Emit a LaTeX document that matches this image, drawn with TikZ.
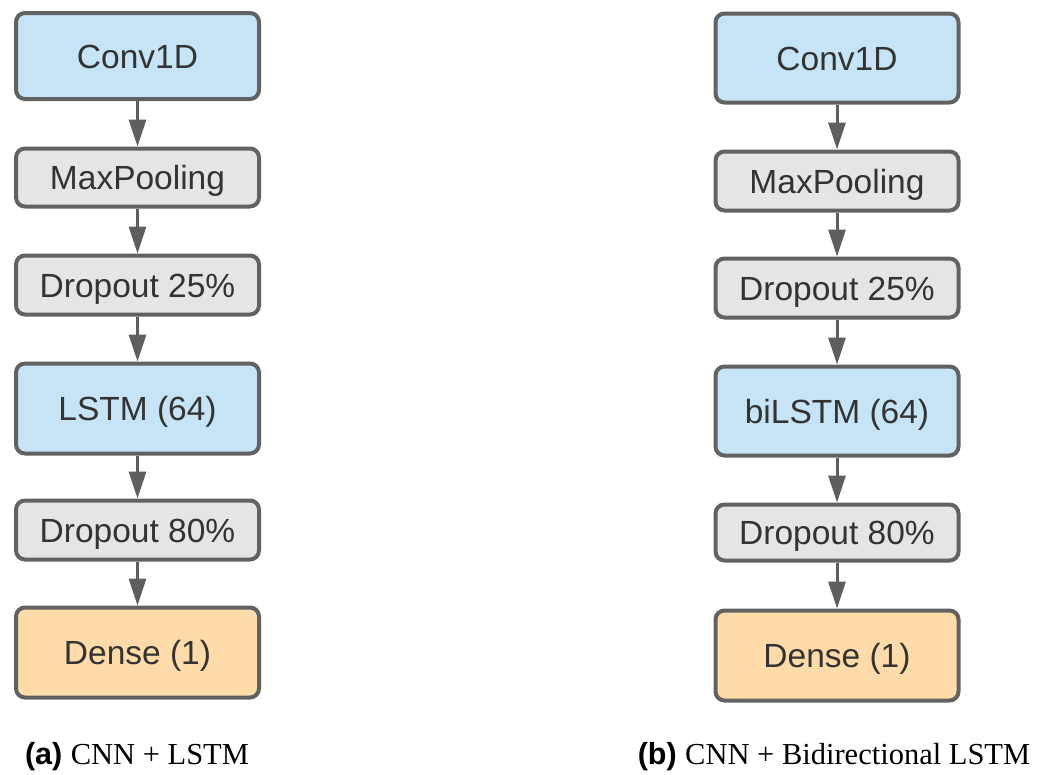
\documentclass[tikz,border=0pt]{standalone}
\usepackage{fontspec}
\setmainfont{Liberation Sans}
\newfontfamily\capserif{Liberation Serif}
\usetikzlibrary{arrows.meta}
\definecolor{bordergray}{HTML}{626262}
\definecolor{textgray}{HTML}{333333}
\definecolor{bluefill}{HTML}{C6E4F6}
\definecolor{grayfill}{HTML}{E5E5E5}
\definecolor{orangefill}{HTML}{FFDBA9}
\definecolor{arrowgray}{HTML}{5E5E5E}
\tikzset{
  layer/.style={draw=bordergray, line width=4pt, rounded corners=9pt,
    minimum width=243pt, text=textgray, font=\fontsize{33.5}{38}\selectfont,
    text height=24pt, text depth=0pt, inner sep=0pt},
  bluebox/.style={layer, fill=bluefill},
  graybox/.style={layer, fill=grayfill},
  orangebox/.style={layer, fill=orangefill},
  flow/.style={draw=arrowgray, line width=3pt, -{Triangle[length=27pt,width=17pt]}},
  caption/.style={anchor=base, text=black, font=\fontsize{30.5}{35}\selectfont, inner sep=0pt}
}
\begin{document}
\begin{tikzpicture}[x=1pt,y=-1pt]
\useasboundingbox (0,0) rectangle (1048,774);
% left column
\node[bluebox, minimum height=86pt] (a1) at (137.5,56) {Conv1D};
\node[graybox, minimum height=58pt] (a2) at (137.5,177.5) {MaxPooling};
\node[graybox, minimum height=59pt] (a3) at (137.5,285) {Dropout 25\%};
\node[bluebox, minimum height=90pt] (a4) at (137.5,408.5) {LSTM (64)};
\node[graybox, minimum height=59pt] (a5) at (137.5,530) {Dropout 80\%};
\node[orangebox, minimum height=90pt] (a6) at (137.5,652.5) {Dense (1)};
% right column
\node[bluebox, minimum height=89pt] (b1) at (837,58) {Conv1D};
\node[graybox, minimum height=59pt] (b2) at (837,181) {MaxPooling};
\node[graybox, minimum height=59pt] (b3) at (837,288) {Dropout 25\%};
\node[bluebox, minimum height=89pt] (b4) at (837,411) {biLSTM (64)};
\node[graybox, minimum height=56pt] (b5) at (837,532.5) {Dropout 80\%};
\node[orangebox, minimum height=90pt] (b6) at (837,655.5) {Dense (1)};
% connectors
\foreach \i/\j in {1/2,2/3,3/4,4/5,5/6}{
  \draw[flow] (a\i.south) -- (a\j.north);
  \draw[flow] (b\i.south) -- (b\j.north);
}
% captions
\node[caption] (capa) at (137,764) {\textbf{(a)} {\capserif CNN + LSTM}};
\node[caption] (capb) at (834,764) {\textbf{(b)} {\capserif CNN + Bidirectional LSTM}};
\end{tikzpicture}
\end{document}
